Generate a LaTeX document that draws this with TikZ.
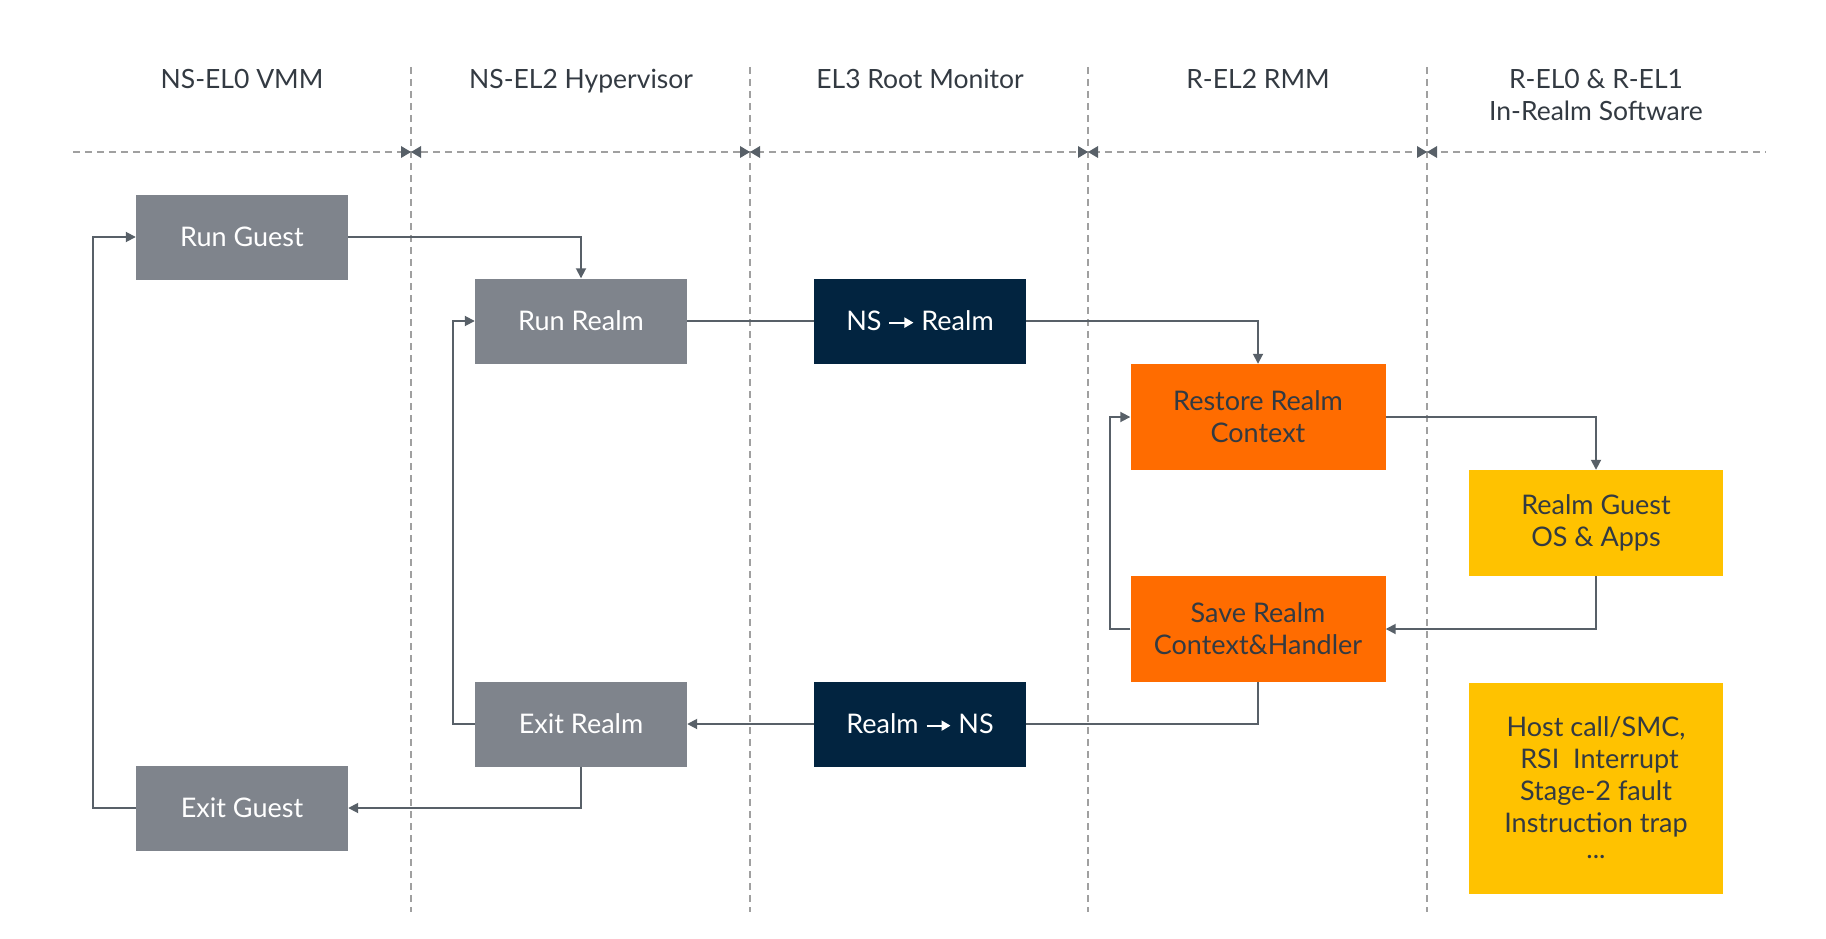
\documentclass[tikz,border=0pt]{standalone}
\usepackage{fontspec}
\setmainfont{Lato}
\usepackage{xcolor}
\usepackage{tikz}
\usetikzlibrary{arrows.meta,positioning}

\definecolor{boxgray}{RGB}{127,132,140}
\definecolor{armnavy}{RGB}{2,36,64}
\definecolor{armorange}{RGB}{255,108,0}
\definecolor{armyellow}{RGB}{255,194,0}
\definecolor{txtdark}{RGB}{51,58,66}
\definecolor{linegray}{RGB}{88,96,104}
\definecolor{dashgray}{RGB}{160,160,160}

\newcommand{\flowarrow}{\tikz[baseline=-0.6ex]\draw[white,line width=2pt,-{Triangle[length=9pt,width=10pt]}] (0pt,0pt) -- (24pt,0pt);}

\begin{document}
\begin{tikzpicture}[x=1pt,y=1pt,yscale=-1,
  stepbox/.style={rectangle,inner sep=0pt,minimum width=212pt,minimum height=85pt,align=center,font=\fontsize{27}{32}\selectfont},
  graybox/.style={stepbox,fill=boxgray,text=white},
  navybox/.style={stepbox,fill=armnavy,text=white},
  orangebox/.style={stepbox,fill=armorange,text=txtdark,minimum width=255pt,minimum height=106pt},
  yellowbox/.style={stepbox,fill=armyellow,text=txtdark,minimum width=254pt,minimum height=106pt},
  lanetitle/.style={anchor=base,align=center,text=txtdark,font=\fontsize{26.5}{32}\selectfont},
  lane/.style={dashgray,line width=1.5pt,dash pattern=on 7pt off 5pt},
  link/.style={linegray,line width=1.8pt},
  flow/.style={link,-{Triangle[length=10pt,width=10pt]}}]
  \useasboundingbox (0,0) rectangle (1826,939);

  %Straight Lines: lanes
  \draw [lane] (73,152) -- (1766,152) ;
  \foreach \lx in {411,750,1088,1427}{
    \draw [lane] (\lx,67) -- (\lx,912) ;
    \fill [linegray] (\lx-10,146) -- (\lx,152) -- (\lx-10,158) -- cycle ;
    \fill [linegray] (\lx+10,146) -- (\lx,152) -- (\lx+10,158) -- cycle ;
  }

  % Text Node
  \node [lanetitle] (tvmm) at (242,88.5) {NS-EL0 VMM};
  % Text Node
  \node [lanetitle] (thyp) at (581,88.5) {NS-EL2 Hypervisor};
  % Text Node
  \node [lanetitle] (tmon) at (920,88.5) {EL3 Root Monitor};
  % Text Node
  \node [lanetitle] (trmm) at (1258,88.5) {R-EL2 RMM};
  % Text Node
  \node [lanetitle] (trealm) at (1596,120.5) {R-EL0 \& R-EL1\\In-Realm Software};

  %Shape: Rectangle
  \node [graybox] (runguest) at (242,237) {Run Guest};
  \node [graybox] (runrealm) at (581,321) {Run Realm};
  \node [navybox] (nsrealm) at (920,321) {NS \flowarrow\ Realm};
  \node [orangebox] (restore) at (1258,417) {Restore Realm\\Context};
  \node [yellowbox] (guestos) at (1596,523) {Realm Guest\\OS \& Apps};
  \node [orangebox] (save) at (1258,629) {Save Realm\\Context\&Handler};
  \node [navybox] (realmns) at (920,724) {Realm \flowarrow\ NS};
  \node [graybox] (exitrealm) at (581,724) {Exit Realm};
  \node [graybox] (exitguest) at (242,808) {Exit Guest};
  \node [yellowbox,minimum height=211pt] (hostcall) at (1596,788) {Host call/SMC,\\\ RSI\ \ Interrupt\\Stage-2 fault\\Instruction trap\\[-6pt]...};

  %Straight Lines: flow
  \draw [flow] (runguest.east) -| (runrealm.north) ;
  \draw [link] (runrealm.east) -- (nsrealm.west) ;
  \draw [flow] (nsrealm.east) -| (restore.north) ;
  \draw [flow] (restore.east) -| (guestos.north) ;
  \draw [flow] (guestos.south) |- (save.east) ;
  \draw [flow] (save.west) -- ++(-20,0) |- (restore.west) ;
  \draw [link] (save.south) |- (realmns.east) ;
  \draw [flow] (realmns.west) -- (exitrealm.east) ;
  \draw [flow] (exitrealm.west) -- ++(-22,0) |- (runrealm.west) ;
  \draw [flow] (exitrealm.south) |- (exitguest.east) ;
  \draw [flow] (exitguest.west) -- ++(-43,0) |- (runguest.west) ;
\end{tikzpicture}
\end{document}
